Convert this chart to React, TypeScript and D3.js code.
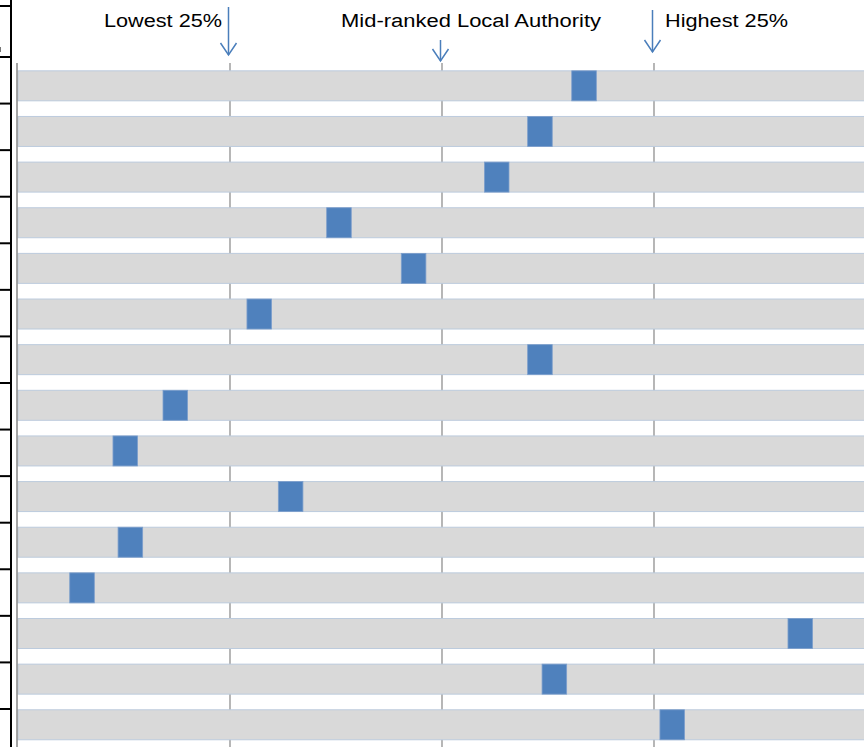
import React from "react";
import * as d3 from "d3";

const rows = ["r1","r2","r3","r4","r5","r6","r7","r8","r9","r10","r11","r12","r13","r14","r15"];
const markerStart = [65.3, 60.1, 55.0, 36.4, 45.2, 27.0, 60.1, 17.1, 11.2, 30.7, 11.8, 6.1, 90.8, 61.8, 75.7];
const markerWidth = 2.9;
const gridValues = [25, 50, 75];
const annotations = [
  { label: "Lowest 25%", value: 25, textX: 104, textLen: 118, y1: 7, y2: 55 },
  { label: "Mid-ranked Local Authority", value: 50, textX: 341, textLen: 260, y1: 40, y2: 61 },
  { label: "Highest 25%", value: 75, textX: 665, textLen: 123, y1: 10, y2: 52 },
];

export default function App() {
  const W = 864, H = 747;
  const x = d3.scaleLinear().domain([0, 100]).range([18, 866]);
  const y = d3.scaleBand<string>().domain(rows).range([63, 63 + rows.length * 45.64]).paddingInner(0.343).paddingOuter(0.1715);
  const frameY = [6, ...d3.range(rows.length).map((i) => 57 + i * 46.57)];
  return (
    <svg width={W} height={H} style={{ position: "absolute", left: 0, top: 0 }} fontFamily="'Liberation Sans', Arial, sans-serif">
      <rect width={W} height={H} fill="#fff" />
      <line x1={11} x2={11} y1={0} y2={H} stroke="#000" strokeWidth={2} />
      {frameY.map((fy, i) => (
        <line key={i} x1={0} x2={11} y1={fy} y2={fy} stroke="#000" strokeWidth={2} />
      ))}
      <line x1={0.5} x2={0.5} y1={47} y2={52} stroke="#777" strokeWidth={1} />
      {gridValues.map((v) => (
        <line key={v} x1={x(v)} x2={x(v)} y1={63} y2={H} stroke="#868686" strokeWidth={1.2} />
      ))}
      {rows.map((r, i) => (
        <g key={r}>
          <rect x={x(0)} y={y(r)!} width={x(100) - x(0)} height={y.bandwidth()} fill="#d9d9d9" stroke="#bccbdd" strokeWidth={1} />
          <rect x={x(markerStart[i])} y={y(r)!} width={x(markerStart[i] + markerWidth) - x(markerStart[i])} height={y.bandwidth()} fill="#4f81bd" stroke="#7d9fcc" strokeWidth={0.8} />
        </g>
      ))}
      <line x1={17} x2={17} y1={63} y2={H} stroke="#868686" strokeWidth={1.5} />
      {annotations.map((a) => {
        const ax = x(a.value) - 1.5;
        return (
          <g key={a.label}>
            <text x={a.textX} y={27} fontSize={18} textLength={a.textLen} lengthAdjust="spacingAndGlyphs" fill="#000">{a.label}</text>
            <line x1={ax} x2={ax} y1={a.y1} y2={a.y2} stroke="#4a7ebb" strokeWidth={1.5} />
            <polyline points={`${ax - 8},${a.y2 - 12} ${ax},${a.y2} ${ax + 8},${a.y2 - 12}`} fill="none" stroke="#4a7ebb" strokeWidth={1.5} />
          </g>
        );
      })}
    </svg>
  );
}
